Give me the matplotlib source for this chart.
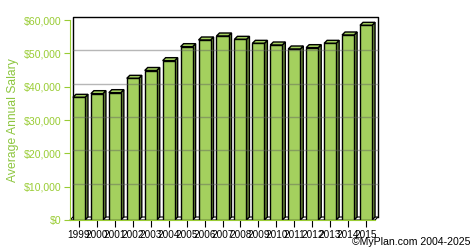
import matplotlib
matplotlib.use('Agg')
import matplotlib.pyplot as plt
from matplotlib.patches import Polygon

years = ['1999', '2000', '2001', '2002', '2003', '2004', '2005', '2006', '2007',
         '2008', '2009', '2010', '2011', '2012', '2013', '2014', '2015']
salary = [36800, 37900, 38200, 42500, 44850, 47800, 52000, 54000, 55200,
          54200, 53000, 52500, 51300, 51700, 53000, 55500, 58400]
yticks = [0, 10000, 20000, 30000, 40000, 50000, 60000]
ytick_labels = ['$0', '$10,000', '$20,000', '$30,000', '$40,000', '$50,000', '$60,000']

plt.rcParams['font.family'] = ['Liberation Sans', 'DejaVu Sans']

green = '#99cc33'
face = '#a4d05e'
side = '#6b8a3a'

fig = plt.figure(figsize=(4.75, 2.5), dpi=100)
ax = fig.add_axes([70 / 475, 30 / 250, 305 / 475, 200 / 250])
ax.set_xlim(-0.5, len(years) - 0.5)
ax.set_ylim(0, 60000)

# 3d depth: 3 px right and up, in data units
ax_w = 305
ax_h = 200
dx = 3 / (ax_w / len(years))
dy = 3 / ax_h * 60000
x0, x1 = -0.5, len(years) - 0.5

# back wall border
ax.plot([x0 + dx, x0 + dx, x1 + dx, x1 + dx], [dy, 60000 + dy, 60000 + dy, dy],
        color='black', lw=1, clip_on=False, zorder=1)
# floor
ax.add_patch(Polygon([(x0, 0), (x1, 0), (x1 + dx, dy), (x0 + dx, dy)],
                     closed=True, facecolor='white', edgecolor='black', lw=0.8,
                     clip_on=False, zorder=1))

w = 0.67
for i, v in enumerate(salary):
    l, r = i - w / 2, i + w / 2
    ax.add_patch(Polygon([(r, 0), (r + dx, dy), (r + dx, v + dy), (r, v)],
                         closed=True, facecolor=side, edgecolor='black', lw=1,
                         clip_on=False, zorder=2))
    ax.add_patch(Polygon([(l, v), (r, v), (r + dx, v + dy), (l + dx, v + dy)],
                         closed=True, facecolor=face, edgecolor='black', lw=1,
                         clip_on=False, zorder=2))
ax.bar(range(len(years)), salary, width=w, color=face, edgecolor='black',
       linewidth=1, zorder=3)

# gridlines on the back wall, seen through the bars
for t in yticks[1:-1]:
    ax.plot([x0 + dx, x1 + dx], [t + dy, t + dy], color='#606060', alpha=0.45,
            lw=1, zorder=4, clip_on=False)

ax.set_yticks(yticks)
ax.set_yticklabels(ytick_labels)
ax.set_xticks(range(len(years)))
ax.set_xticklabels(years)

for s in ['top', 'right']:
    ax.spines[s].set_visible(False)
ax.spines['left'].set_color(green)
ax.spines['bottom'].set_color(green)
ax.spines['left'].set_zorder(5)
ax.spines['bottom'].set_zorder(5)

ax.tick_params(axis='y', colors=green, length=4, pad=2, labelsize=7.6)
ax.tick_params(axis='x', colors='black', length=5, pad=2, labelsize=7.2)

fig.text(13 / 475, 1 - 120 / 250, 'Average Annual Salary', rotation=90,
         color='#8dc63f', fontsize=8.7, ha='center', va='center')
fig.text(471 / 475, 1 - 242 / 250, '\u00a9MyPlan.com 2004-2025', fontsize=7.6,
         ha='right', va='center', color='black')

fig.savefig('out.png', dpi=100)
